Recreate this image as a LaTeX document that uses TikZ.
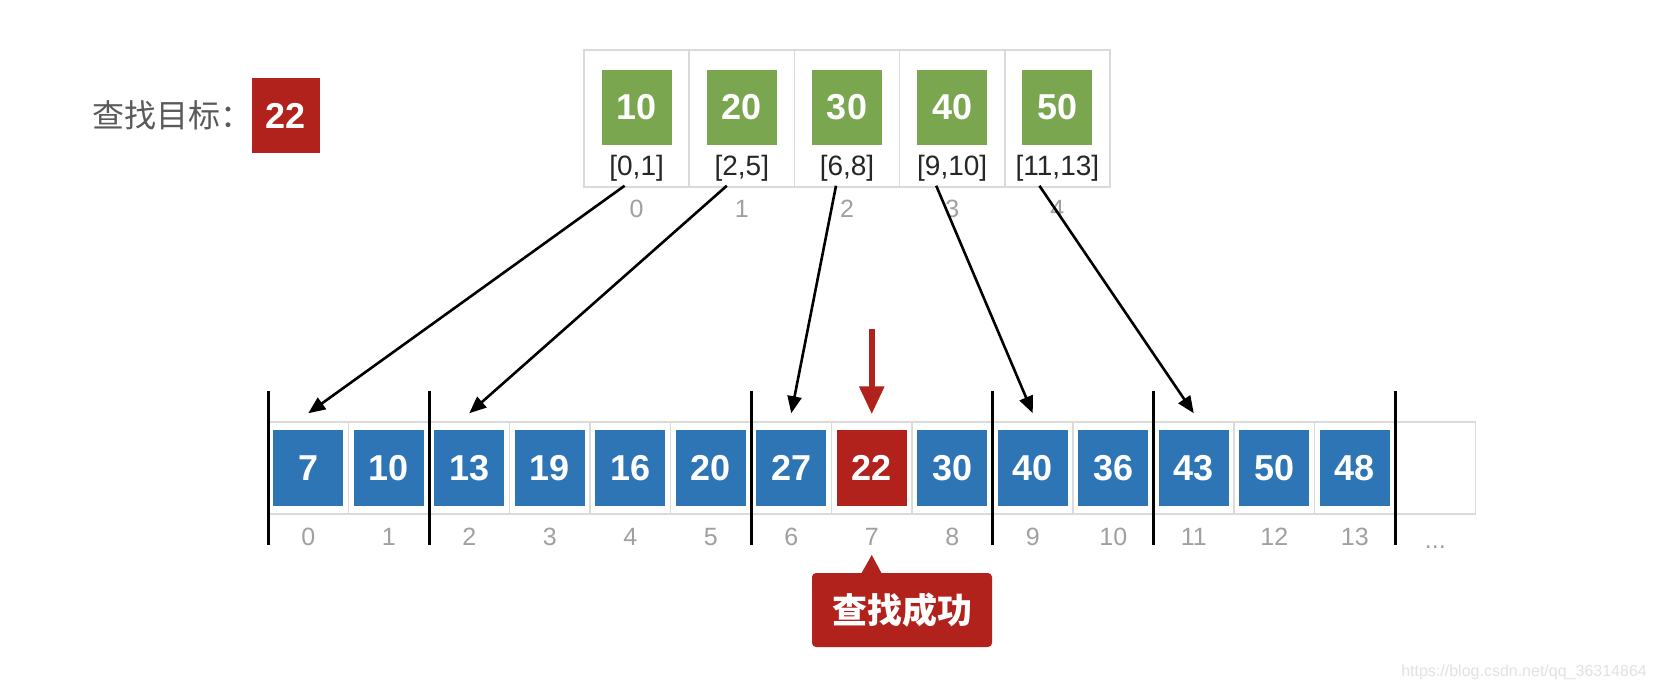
\documentclass[tikz,border=0pt]{standalone}
\usepackage{fontspec}
\setmainfont{Liberation Sans}
\newfontfamily\cjk{Noto Sans CJK SC}
\usepackage{tikz}
\usetikzlibrary{positioning, arrows.meta}
\usepackage{xcolor}

\definecolor{cellblue}{RGB}{46,117,182}
\definecolor{keygreen}{RGB}{122,166,80}
\definecolor{hitred}{RGB}{178,34,28}
\definecolor{gridgray}{RGB}{218,218,218}
\definecolor{idxgray}{RGB}{160,160,160}
\definecolor{txtgray}{RGB}{90,90,90}
\definecolor{markgray}{RGB}{226,226,226}

\begin{document}
\begin{tikzpicture}[x=1pt, y=-1pt,
    cell/.style={draw=gridgray, line width=1.5pt, minimum width=80.5pt, minimum height=92pt, inner sep=0pt},
    topcell/.style={draw=gridgray, line width=1.5pt, minimum width=105.2pt, minimum height=137pt, inner sep=0pt},
    val/.style={fill=cellblue, text=white, minimum width=70pt, minimum height=76pt, inner sep=0pt, font=\fontsize{36}{40}\selectfont\bfseries},
    key/.style={val, fill=keygreen, minimum height=75pt},
    span/.style={text=black!85, inner sep=0pt, font=\fontsize{28}{32}\selectfont},
    idx/.style={text=idxgray, inner sep=0pt, text height=18pt, text depth=0pt, font=\fontsize{25}{30}\selectfont},
    sep/.style={line width=3pt, black},
    link/.style={line width=2.6pt, black, -{Triangle[length=17pt, width=14pt]}},
    hitarrow/.style={line width=6pt, hitred, -{Triangle[length=28pt, width=24pt]}}]
    \useasboundingbox[fill=white] (0,0) rectangle (1656,690);

    % Target to look for
    \node[anchor=west, inner sep=0pt, text=txtgray, font=\fontsize{32}{36}\selectfont\cjk] (goal) at (92,115) {查找目标：};
    \node[val, fill=hitred, minimum width=68pt, minimum height=75pt] (target) at (286,115.5) {22};

    % Index table
    \node[topcell] (t0) at (636.6,118.5) {};
    \node[topcell] (t1) at (741.8,118.5) {};
    \node[topcell] (t2) at (847,118.5) {};
    \node[topcell] (t3) at (952.2,118.5) {};
    \node[topcell] (t4) at (1057.4,118.5) {};
    \node[key] at (636.6,107.5) {10};
    \node[key] at (741.8,107.5) {20};
    \node[key] at (847,107.5) {30};
    \node[key] at (952.2,107.5) {40};
    \node[key] at (1057.4,107.5) {50};
    \node[span] at (636.6,168) {[0,1]};
    \node[span] at (741.8,168) {[2,5]};
    \node[span] at (847,168) {[6,8]};
    \node[span] at (952.2,168) {[9,10]};
    \node[span] at (1057.4,168) {[11,13]};
    \node[idx] at (636.6,208) {0};
    \node[idx] at (741.8,208) {1};
    \node[idx] at (847,208) {2};
    \node[idx] at (952.2,208) {3};
    \node[idx] at (1057.4,208) {4};

    % Data array
    \node[cell] (c0) at (308.25,468) {}; \node[val] at (c0) {7}; \node[idx] at (308.25,536) {0};
    \node[cell] (c1) at (388.75,468) {}; \node[val] at (c1) {10}; \node[idx] at (388.75,536) {1};
    \node[cell] (c2) at (469.25,468) {}; \node[val] at (c2) {13}; \node[idx] at (469.25,536) {2};
    \node[cell] (c3) at (549.75,468) {}; \node[val] at (c3) {19}; \node[idx] at (549.75,536) {3};
    \node[cell] (c4) at (630.25,468) {}; \node[val] at (c4) {16}; \node[idx] at (630.25,536) {4};
    \node[cell] (c5) at (710.75,468) {}; \node[val] at (c5) {20}; \node[idx] at (710.75,536) {5};
    \node[cell] (c6) at (791.25,468) {}; \node[val] at (c6) {27}; \node[idx] at (791.25,536) {6};
    \node[cell] (c7) at (871.75,468) {}; \node[val, fill=hitred] at (c7) {22}; \node[idx] at (871.75,536) {7};
    \node[cell] (c8) at (952.25,468) {}; \node[val] at (c8) {30}; \node[idx] at (952.25,536) {8};
    \node[cell] (c9) at (1032.75,468) {}; \node[val] at (c9) {40}; \node[idx] at (1032.75,536) {9};
    \node[cell] (c10) at (1113.25,468) {}; \node[val] at (c10) {36}; \node[idx] at (1113.25,536) {10};
    \node[cell] (c11) at (1193.75,468) {}; \node[val] at (c11) {43}; \node[idx] at (1193.75,536) {11};
    \node[cell] (c12) at (1274.25,468) {}; \node[val] at (c12) {50}; \node[idx] at (1274.25,536) {12};
    \node[cell] (c13) at (1354.75,468) {}; \node[val] at (c13) {48}; \node[idx] at (1354.75,536) {13};
    \node[cell] (c14) at (1435.25,468) {}; \node[idx] at (1435.25,539) {...};

    % Block borders
    \draw[sep] (268,391) -- (268,545);
    \draw[sep] (429,391) -- (429,545);
    \draw[sep] (751,391) -- (751,545);
    \draw[sep] (992.5,391) -- (992.5,545);
    \draw[sep] (1153.5,391) -- (1153.5,545);
    \draw[sep] (1395,391) -- (1395,545);

    % Index entries point to block starts
    \draw[link] ([xshift=-12pt, yshift=2pt]t0.south) -- ([yshift=8pt]c0.north);
    \draw[link] ([xshift=-15pt, yshift=2pt]t1.south) -- ([yshift=8pt]c2.north);
    \draw[link] ([xshift=-11pt, yshift=2pt]t2.south) -- ([yshift=8pt]c6.north);
    \draw[link] ([xshift=-16pt, yshift=2pt]t3.south) -- ([yshift=8pt]c9.north);
    \draw[link] ([xshift=-18pt, yshift=2pt]t4.south) -- ([yshift=8pt]c11.north);

    % Hit
    \coordinate (probe) at (871.75,329);
    \draw[hitarrow] (probe) -- ([yshift=7pt]c7.north);
    \node[fill=hitred, rounded corners=4pt, minimum width=180pt, minimum height=74pt, inner sep=0pt, text=white, font=\fontsize{35}{40}\selectfont\cjk\bfseries] (found) at (902,610) {查找成功};
    \fill[hitred] (861,574) -- (871.75,555) -- (882,574) -- cycle;

    \node[anchor=east, inner sep=0pt, text=markgray, font=\fontsize{16}{18}\selectfont] (mark) at (1647,672) {https://blog.csdn.net/qq\_36314864};
\end{tikzpicture}
\end{document}
